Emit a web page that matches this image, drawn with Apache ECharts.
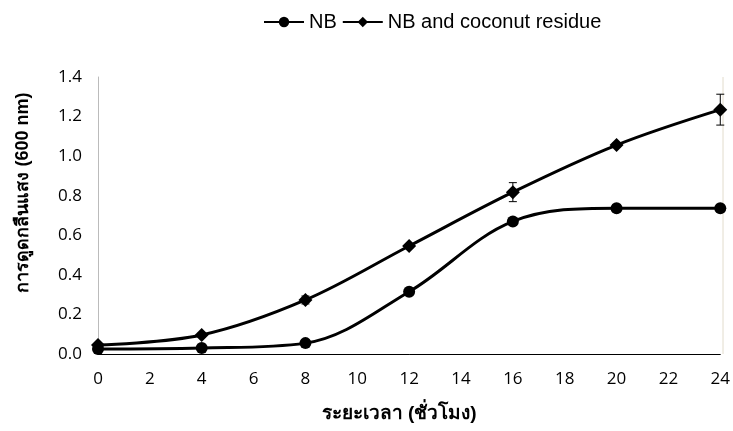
<!DOCTYPE html>
<html><head><meta charset="utf-8">
<script src="https://cdn.jsdelivr.net/npm/echarts@6/dist/echarts.min.js"></script>
<style>html,body{margin:0;padding:0;background:#fff}#c{width:733px;height:431px}</style>
</head><body><div id="c"></div>
<script>
const hours = [0, 4, 8, 12, 16, 20, 24];
const nb = [0.025, 0.03, 0.055, 0.315, 0.67, 0.737, 0.737];
const nbCoconut = [0.045, 0.096, 0.273, 0.546, 0.818, 1.056, 1.235];
const nbCoconutErr = [0.005, 0.01, 0.02, 0.01, 0.048, 0.01, 0.078];
const nbErr = [0.005, 0.005, 0.005, 0.01, 0.01, 0.01, 0.01];
const seriesNames = ['NB', 'NB and coconut residue'];

const chart = echarts.init(document.getElementById('c'));
function errSeries(vals, errs) {
  return {
    type: 'custom', silent: true, z: 1,
    data: hours.map((h, i) => [h, vals[i] - errs[i], vals[i] + errs[i]]),
    renderItem: function (params, api) {
      const lo = api.coord([api.value(0), api.value(1)]);
      const hi = api.coord([api.value(0), api.value(2)]);
      const w = 4;
      const st = { stroke: '#000', lineWidth: 1 };
      return { type: 'group', children: [
        { type: 'line', shape: { x1: lo[0], y1: lo[1], x2: hi[0], y2: hi[1] }, style: st },
        { type: 'line', shape: { x1: lo[0] - w, y1: lo[1], x2: lo[0] + w, y2: lo[1] }, style: st },
        { type: 'line', shape: { x1: hi[0] - w, y1: hi[1], x2: hi[0] + w, y2: hi[1] }, style: st }
      ]};
    }
  };
}
chart.setOption({
  animation: false,
  textStyle: { fontFamily: 'Liberation Sans, Arial, sans-serif' },
  legend: {
    top: 7, left: 258, itemWidth: 40, itemHeight: 13, itemGap: 5,
    textStyle: { fontSize: 20, color: '#000', fontFamily: 'Liberation Sans' },
    data: seriesNames
  },
  grid: { left: 98, right: 10, top: 77, bottom: 77 },
  xAxis: {
    type: 'value', min: 0, max: 24, interval: 2,
    name: 'ระยะเวลา (ชั่วโมง)', nameLocation: 'middle', nameGap: 50,
    nameTextStyle: { fontSize: 19, fontWeight: 'bold', color: '#000', padding: [0, 20, 0, 0] },
    axisLine: { lineStyle: { color: '#000', width: 1 } },
    axisTick: { show: false },
    axisLabel: { fontSize: 17, color: '#000', margin: 17, fontFamily: 'Open Sans' },
    splitLine: { show: false }
  },
  yAxis: {
    type: 'value', min: 0, max: 1.4, interval: 0.2,
    name: 'การดูดกลืนแสง (600 nm)', nameLocation: 'middle', nameGap: 66, nameRotate: 90,
    nameTextStyle: { fontSize: 18, fontWeight: 'bold', color: '#000', padding: [0, 0, 0, 46] },
    axisLine: { show: true, lineStyle: { color: '#bbb', width: 1 } },
    axisTick: { show: false },
    axisLabel: { fontSize: 17, color: '#000', margin: 16, fontFamily: 'Open Sans',
      formatter: v => v.toFixed(1) },
    splitLine: { show: false }
  },
  series: [
    errSeries(nbCoconut, nbCoconutErr),
    errSeries(nb, nbErr),
    {
      name: seriesNames[0], type: 'line', smooth: 0.35, z: 3,
      data: hours.map((h, i) => [h, nb[i]]),
      symbol: 'circle', symbolSize: 12,
      lineStyle: { color: '#000', width: 3 }, itemStyle: { color: '#000' }
    },
    {
      name: seriesNames[1], type: 'line', smooth: 0.35, z: 3,
      data: hours.map((h, i) => [h, nbCoconut[i]]),
      symbol: 'diamond', symbolSize: 14,
      lineStyle: { color: '#000', width: 3 }, itemStyle: { color: '#000' }
    }
  ],
  graphic: [{ type: 'line', shape: { x1: 723, y1: 77, x2: 723, y2: 354 }, style: { stroke: '#e2dccc', lineWidth: 1 } }]
});
</script></body></html>
